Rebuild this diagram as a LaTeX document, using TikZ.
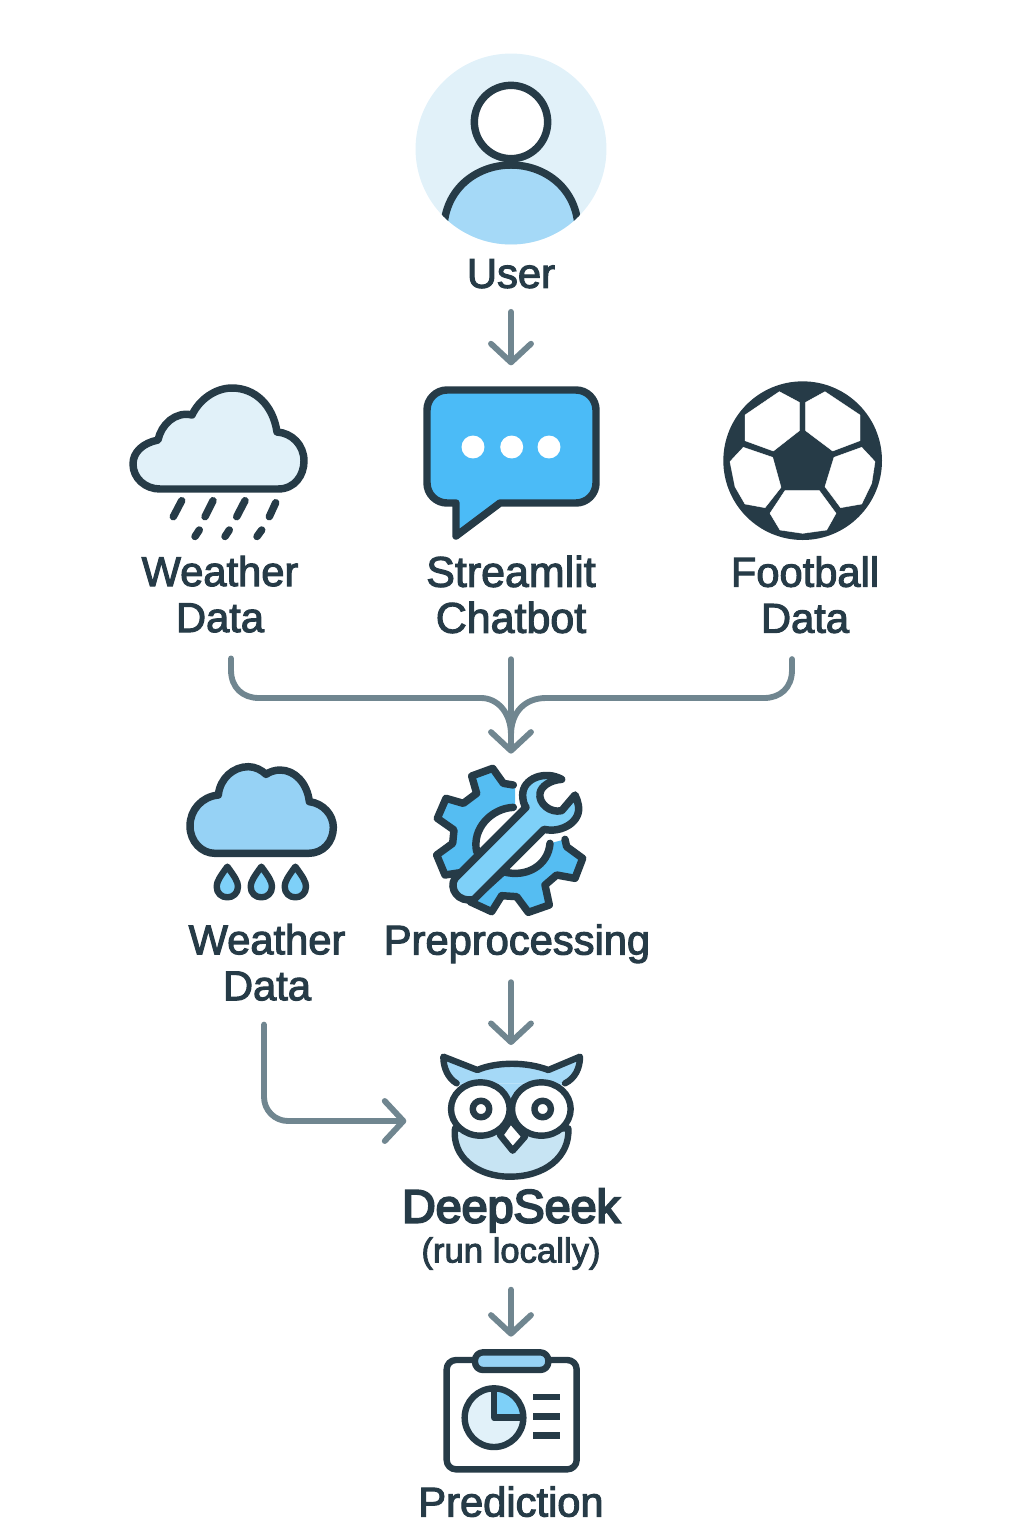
\documentclass[tikz,border=0pt]{standalone}
\usepackage{fontspec}
\setmainfont{Liberation Sans}[FakeBold=2.6]
\newfontfamily\boldish{Liberation Sans}[FakeBold=4.5]
\usetikzlibrary{arrows.meta,positioning}

\definecolor{ink}{HTML}{263B47}
\definecolor{flowgrey}{HTML}{708690}
\definecolor{palesky}{HTML}{E1F1F9}
\definecolor{softsky}{HTML}{A5D9F7}
\definecolor{rainsky}{HTML}{96D2F5}
\definecolor{brightsky}{HTML}{4BBBF7}
\definecolor{gearsky}{HTML}{55BDF2}
\definecolor{lightsky}{HTML}{7ED0F8}
\definecolor{owlchin}{HTML}{C7E4F3}

\tikzset{
    iconbox/.style = {inner sep=0pt, outer sep=0pt, minimum width=150pt},
    caption/.style = {inner sep=0pt, outer sep=0pt, align=center, text=ink, font=\fontsize{31.25}{34.5}\selectfont},
    flow/.style = {draw=flowgrey, line width=4.4pt, line cap=round, line join=round, >={Straight Barb[length=14pt,width=30pt,round]}},
    outline/.style = {draw=ink, line width=5.6pt, line join=round, line cap=round},
    thin outline/.style = {draw=ink, line width=4.8pt, line join=round, line cap=round}
}

\begin{document}
\begin{tikzpicture}[x=0.75pt,y=-0.75pt]
    \useasboundingbox (0,0) rectangle (1024,1536);

    % boxes round the icons, the captions hang below them
    \node [iconbox, minimum height=143.25pt] (userbox) at (511,149) {};
    \node [iconbox, minimum height=116pt] (rainbox) at (220,462.5) {};
    \node [iconbox, minimum height=116pt] (chatbox) at (511,461) {};
    \node [iconbox, minimum height=120pt] (ballbox) at (805,460.5) {};
    \node [iconbox, minimum height=109.5pt] (gearbox) at (511,838) {};
    \node [iconbox, minimum height=105pt] (dropbox) at (267,833) {};
    \node [iconbox, minimum height=98.5pt] (owlbox) at (511,1121) {};
    \node [iconbox, minimum height=91.5pt] (predbox) at (511,1410) {};

    \node [caption, below = 11pt of userbox] (user) {User};
    \node [caption, below = 12pt of rainbox] (rain) {Weather\\Data};
    \node [caption, below = 13pt of chatbox, font=\fontsize{32.2}{34.5}\selectfont] (chat) {Streamlit\\Chatbot};
    \node [caption, below = 12pt of ballbox] (ball) {Football\\Data};
    \node [caption, below = 15.75pt of dropbox] (drop) {Weather\\Data};
    \node [caption, below = 10pt of gearbox, xshift=4.5pt] (gear) {Preprocessing};
    \node [caption, below = 1.5pt of owlbox, align=center] (owl) {{\boldish\fontsize{35}{38}\selectfont DeepSeek}\\[-4.5pt]{\fontsize{26}{32}\selectfont (run locally)}};
    \node [caption, below = 11.5pt of predbox] (pred) {Prediction};

    % user
    \fill [palesky] (userbox.center) circle (71.6pt);
    \begin{scope}
        \clip (userbox.center) circle (71.6pt);
        \filldraw [outline, fill=softsky] (444,270) -- (444,225) .. controls (447,187) and (478,165) .. (511,165) .. controls (544,165) and (575,187) .. (578,225) -- (578,270) -- cycle;
    \end{scope}
    \filldraw [outline, fill=white] (511,122) circle (27.5pt);

    % rain cloud
    \filldraw [outline, fill=palesky] (160,489) -- (278,489) .. controls (295,489) and (304,475) .. (304,461) .. controls (304,445) and (292,433) .. (277,432) .. controls (273,405) and (255,388) .. (232,388) .. controls (215,388) and (199,400) .. (192,415) .. controls (175,411) and (161,425) .. (158,440) .. controls (143,443) and (133,452) .. (133,464) .. controls (133,478) and (145,489) .. (160,489) -- cycle;
    \draw [outline] (181.7,500.7) -- (173.3,516.7);
    \draw [outline] (213,500.7) -- (205,516.7);
    \draw [outline] (245,500.7) -- (236.7,516.7);
    \draw [outline] (275.7,502.7) -- (269.3,516.7);
    \draw [outline] (199.3,530) -- (195,536.5);
    \draw [outline] (229.3,530) -- (225,536.5);
    \draw [outline] (261.7,530) -- (257,536.5);

    % chat bubble
    \filldraw [outline, fill=brightsky] (456,503) -- (447,503) .. controls (436,503) and (427,494) .. (427,483) -- (427,410) .. controls (427,399) and (436,390) .. (447,390) -- (576,390) .. controls (587,390) and (596,399) .. (596,410) -- (596,483) .. controls (596,494) and (587,503) .. (576,503) -- (500,503) -- (456,536) -- cycle;
    \foreach \dotx in {473,511.7,549}
        \fill [white] (\dotx,447) circle (8.6pt);

    % football
    \begin{scope}[shift={(410,370)},x=0.25pt,y=-0.25pt]
        \fill [ink] (1178,272) circle (59.5pt);
        \tikzstyle{patch} = [fill=white, draw=white, line width=0.3pt, line join=round]
        \filldraw [patch] (1005,135) -- (1108,65) -- (1168,97) -- (1168,182) -- (1090,243) -- (1005,212) -- cycle;
        \filldraw [patch] (1187,97) -- (1245,65) -- (1350,135) -- (1350,212) -- (1268,243) -- (1187,182) -- cycle;
        \filldraw [patch] (1000,232) -- (1088,262) -- (1113,352) -- (1065,413) -- (1005,402) -- (975,350) -- (960,275) -- cycle;
        \filldraw [patch] (1272,262) -- (1355,232) -- (1395,275) -- (1385,340) -- (1355,402) -- (1292,413) -- (1245,350) -- cycle;
        \filldraw [patch] (1125,362) -- (1228,362) -- (1278,430) -- (1250,480) -- (1178,490) -- (1110,480) -- (1080,430) -- cycle;
    \end{scope}

    % second cloud and gear
    \begin{scope}[shift={(170,750)},x=0.25pt,y=-0.25pt]
        \filldraw [outline, fill=rainsky] (135,310) -- (415,310) .. controls (460,310) and (490,275) .. (490,232) .. controls (490,195) and (460,160) .. (418,155) .. controls (412,100) and (375,60) .. (330,60) .. controls (315,60) and (300,65) .. (288,73) .. controls (275,60) and (255,50) .. (235,50) .. controls (190,50) and (150,85) .. (145,135) .. controls (95,140) and (60,180) .. (60,228) .. controls (60,275) and (95,310) .. (135,310) -- cycle;
        \foreach \dropx in {0,102,204}
            \filldraw [thin outline, fill=lightsky, xshift=\dropx*0.25pt] (172,350) .. controls (150,380) and (140,395) .. (140,410) .. controls (140,430) and (155,442) .. (172,442) .. controls (189,442) and (204,430) .. (204,410) .. controls (204,395) and (194,380) .. (172,350) -- cycle;

        \fill [gearsky] (1035,105) -- (1000,100) -- (968,55) -- (905,78) -- (920,130) -- (880,160) -- (828,145) -- (802,205) -- (852,240) -- (848,280) -- (800,315) -- (825,375) -- (870,368) -- (920,305) .. controls (905,235) and (965,175) .. (1035,172) -- cycle;
        \draw [outline] (1030,105) -- (1000,100) -- (968,55) -- (905,78) -- (920,130) -- (880,160) -- (828,145) -- (802,205) -- (852,240) -- (848,280) -- (800,315) -- (825,375) -- (870,368);
        \draw [outline] (1030,172) .. controls (965,175) and (905,235) .. (920,305);
        \filldraw [outline, fill=gearsky] (1185,268) -- (1190,290) -- (1238,325) -- (1215,385) -- (1160,375) -- (1125,405) -- (1138,465) -- (1075,487) -- (1040,440) -- (995,437) -- (965,485) -- (900,455) -- (1000,365) .. controls (1070,385) and (1135,345) .. (1140,280);
        \filldraw [outline, fill=lightsky] (1175,88) .. controls (1125,60) and (1058,85) .. (1058,135) .. controls (1058,150) and (1062,165) .. (1068,172) -- (855,385) .. controls (835,415) and (865,460) .. (912,448) -- (1122,238) .. controls (1175,250) and (1235,215) .. (1225,165) .. controls (1223,155) and (1220,145) .. (1215,135) -- (1175,182) .. controls (1140,190) and (1105,160) .. (1110,130) .. controls (1112,110) and (1140,90) .. (1175,88) -- cycle;
    \end{scope}

    % owl
    \begin{scope}[shift={(420,1040)},x=0.25pt,y=-0.25pt]
        \fill [softsky] (110,130) -- (272,225) -- (435,130) -- cycle;
        \filldraw [thin outline, fill=softsky] (110,130) .. controls (85,115) and (70,85) .. (70,50) -- (172,90) .. controls (230,65) and (320,65) .. (385,90) -- (480,50) .. controls (480,85) and (465,115) .. (435,130);
        \filldraw [thin outline, fill=owlchin] (105,265) .. controls (95,350) and (170,410) .. (270,410) .. controls (375,410) and (450,350) .. (445,265) -- cycle;
        \filldraw [thin outline, fill=white] (181,207) ellipse (22pt and 20pt);
        \filldraw [thin outline, fill=white] (364,207) ellipse (22pt and 20pt);
        \draw [thin outline] (183,207) circle (6.2pt);
        \draw [thin outline] (368,207) circle (6.2pt);
        \filldraw [thin outline, fill=white] (272,240) -- (315,290) -- (278,332) -- (240,285) -- cycle;
    \end{scope}

    % clipboard with the pie chart
    \begin{scope}[shift={(420,1340)},x=0.25pt,y=-0.25pt]
        \filldraw [thin outline, fill=white, rounded corners=7pt] (80,60) rectangle (470,388);
        \filldraw [thin outline, fill=rainsky, rounded corners=6pt] (165,37) rectangle (385,90);
        \fill [palesky] (222,233) circle (22pt);
        \fill [lightsky] (222,233) -- (222,145) .. controls (270,145) and (310,185) .. (310,233) -- cycle;
        \draw [thin outline] (222,233) circle (22pt);
        \draw [thin outline, line cap=butt] (222,150) -- (222,233) -- (305,233);
        \foreach \bary in {171,229,286}
            \draw [thin outline, line cap=butt] (340,\bary) -- (420,\bary);
    \end{scope}

    % arrows
    \coordinate (merge) at (511,735);
    \draw [flow, ->, shorten <=17.75pt, shorten >=13.75pt] (user) -- (chatbox);
    \draw [flow, ->, shorten <=19.5pt, shorten >=8.5pt] (chat) -- (gearbox);
    \draw [flow, shorten <=19.5pt] ([xshift=8.25pt]rain.south) -- (231,670) .. controls (231,688) and (243,698) .. (259,698) -- (481,698) .. controls (497,698) and (511,712) .. (merge);
    \draw [flow, shorten <=19.5pt] ([xshift=-9.75pt]ball.south) -- (792,670) .. controls (792,688) and (780,698) .. (764,698) -- (546,698) .. controls (525,698) and (511,712) .. (merge);
    \draw [flow, ->, shorten <=14.25pt, shorten >=7.75pt] (gear.south -| owlbox.north) -- (owlbox.north);
    \draw [flow, ->, rounded corners=18pt, shorten <=18pt, shorten >=3.5pt] ([xshift=-2.25pt]drop.south) |- (owlbox.west);
    \draw [flow, ->, shorten <=15pt, shorten >=9.25pt] (owl) -- (predbox);
\end{tikzpicture}
\end{document}
